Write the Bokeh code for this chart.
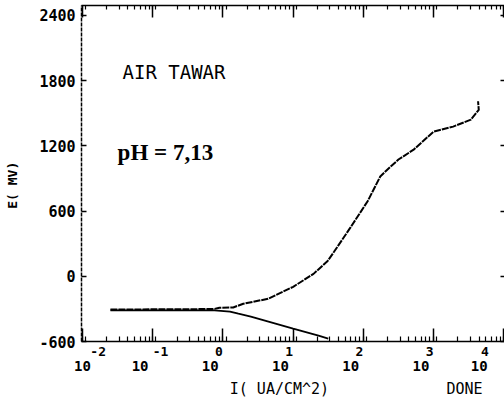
from bokeh.plotting import figure
from bokeh.models import (Range1d, LogAxis, LinearAxis, FixedTicker, LogTicker, Label,
                          CustomJSTickFormatter)
from bokeh.embed import file_html
from bokeh.resources import INLINE

# anodic branch: current density (uA/cm2) and potential (mV)
anodic_current = [0.025, 0.1, 0.5, 0.76, 0.89, 1.4, 1.95, 4.4, 10, 19.5, 31, 38,
                  66, 115, 174, 245, 316, 520, 1000, 1900, 3400, 4400, 4300]
anodic_potential = [-306, -304, -302, -300, -290, -287, -253, -207, -97, 22, 141, 223,
                    452, 690, 918, 1010, 1074, 1165, 1330, 1377, 1441, 1531, 1610]
# cathodic branch
cathodic_current = [0.025, 0.1, 0.5, 0.76, 1.26, 1.66, 2.5, 10, 23, 31.6]
cathodic_potential = [-313, -314, -314, -314, -325, -344, -371, -481, -545, -573]

x_decades = [-2, -1, 0, 1, 2, 3, 4]
y_ticks = [-600, 0, 600, 1200, 1800, 2400]
y_tick_labels = ["-600", "0", "600", "1200", "1800", "2400"]

NB = "\u00a0"
x_label = NB * 14 + "I( UA/CM^2)" + NB * 13 + "DONE"
y_label = "E( MV)" + NB * 3

MONO = "DejaVu Sans Mono"

p = figure(width=504, height=400, x_axis_type="log", output_backend="svg",
           toolbar_location=None,
           x_range=Range1d(10 ** -2.014, 10 ** 4.01), y_range=Range1d(-600, 2491),
           min_border_left=81, min_border_right=0, min_border_top=5,
           min_border_bottom=57)
p.xgrid.visible = False
p.ygrid.visible = False
p.outline_line_color = None
p.background_fill_color = None
p.background_fill_alpha = 0
p.border_fill_color = "white"


def decade_ticker():
    return LogTicker(desired_num_ticks=len(x_decades), num_minor_ticks=9,
                     mantissas=[1])


exp_fmt = CustomJSTickFormatter(code=r"""
const k = Math.round(Math.log10(tick));
const nb = "\u00a0";
if (k == -2) return nb + nb + nb + nb + "-2";
if (k < 0) return nb + nb + "-" + Math.abs(k);
if (k == 4) return "4" + nb + nb;
return String(k) + nb;
""")
ten_fmt = CustomJSTickFormatter(code=r"""
const k = Math.round(Math.log10(tick));
const nb = "\u00a0";
if (k == -2) return "10";
if (k == 4) return "10" + nb + nb;
return "10" + nb + nb + nb;
""")

# bottom axis: ticks + exponents
xa = p.xaxis[0]
xa.ticker = decade_ticker()
xa.formatter = exp_fmt
xa.major_tick_in = 13
xa.major_tick_out = 0
xa.minor_tick_in = 5
xa.minor_tick_out = 0
xa.axis_line_width = 1.5
xa.axis_line_color = "black"
xa.major_tick_line_color = "black"
xa.minor_tick_line_color = "black"
xa.major_tick_line_width = 1.5
xa.minor_tick_line_width = 1.2
xa.major_label_standoff = 2
xa.major_label_text_font = MONO
xa.major_label_text_font_style = "bold"
xa.major_label_text_font_size = "13px"
xa.major_label_text_color = "black"

# second bottom axis: the "10" of each decade and the axis title
xb = LogAxis(ticker=FixedTicker(ticks=[10.0 ** k for k in x_decades]), formatter=ten_fmt,
             major_tick_in=0, major_tick_out=0, minor_tick_line_color=None,
             axis_line_color=None, major_tick_line_color=None,
             major_label_standoff=-4, major_label_text_font=MONO,
             major_label_text_font_style="bold", major_label_text_font_size="14px",
             major_label_text_color="black",
             axis_label=x_label, axis_label_standoff=3, axis_label_text_font=MONO,
             axis_label_text_font_style="normal", axis_label_text_font_size="15px",
             axis_label_text_color="black")
p.add_layout(xb, "below")

# top axis
top = LogAxis(ticker=decade_ticker(),
              major_tick_in=12, major_tick_out=0, minor_tick_in=4, minor_tick_out=0,
              major_label_text_font_size="1px", major_label_text_color=None,
              major_label_standoff=0, axis_line_color="black",
              major_tick_line_color="black", minor_tick_line_color="black",
              axis_line_width=1.5, major_tick_line_width=1.5, minor_tick_line_width=1.2)
p.add_layout(top, "above")

# left axis
ya = p.yaxis[0]
ya.ticker = FixedTicker(ticks=y_ticks)
ya.major_label_overrides = {t: s for t, s in zip(y_ticks, y_tick_labels)}
ya.major_tick_in = 5
ya.major_tick_out = 0
ya.major_tick_line_color = "black"
ya.minor_tick_line_color = None
ya.major_label_standoff = 6
ya.axis_line_width = 1.5
ya.axis_line_color = "black"
ya.axis_line_dash = "4 1"
ya.major_tick_line_width = 1.5
ya.major_label_text_font = MONO
ya.major_label_text_font_style = "bold"
ya.major_label_text_font_size = "15px"
ya.major_label_text_color = "black"
ya.axis_label = y_label
ya.axis_label_standoff = 16
ya.axis_label_text_font = MONO
ya.axis_label_text_font_style = "bold"
ya.axis_label_text_font_size = "13px"
ya.axis_label_text_color = "black"

# right axis (ticks only)
right = LinearAxis(ticker=FixedTicker(ticks=y_ticks), major_tick_in=4, major_tick_out=0,
                   minor_tick_line_color=None, axis_line_color=None,
                   major_tick_line_color="black",
                   major_label_text_font_size="1px", major_label_text_color=None,
                   major_label_standoff=0, major_tick_line_width=1.5)
p.add_layout(right, "right")

# curves
p.line(cathodic_current, cathodic_potential, line_color="black", line_width=1.8)
p.line(anodic_current, anodic_potential, line_color="black", line_width=2.0,
       line_dash="7 1")

# texts inside the frame
p.add_layout(Label(x=10 ** -1.43, y=1879, text="AIR TAWAR", text_align="left",
                   text_baseline="alphabetic", text_font=MONO,
                   text_font_size="19px", text_color="black"))
p.add_layout(Label(x=10 ** -1.50, y=1138, text="pH = 7,13", text_align="left",
                   text_baseline="alphabetic", text_font="Liberation Serif",
                   text_font_style="bold", text_font_size="23px", text_color="black"))

open("out.html", "w").write(file_html(p, INLINE))
